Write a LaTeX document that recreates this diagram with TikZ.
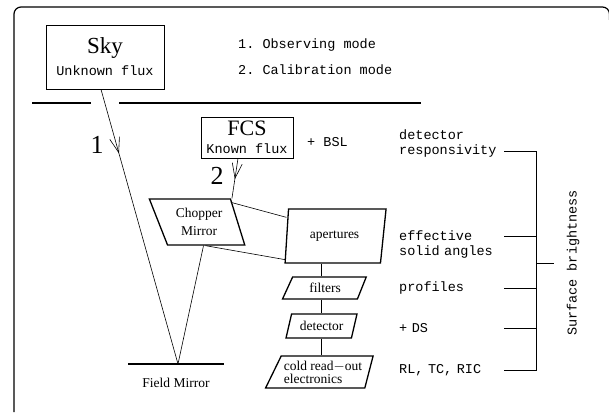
\documentclass[tikz,border=0pt]{standalone}
\usepackage{fontspec}
\setmainfont{Liberation Serif}
\setmonofont{Liberation Mono}
\usetikzlibrary{arrows.meta, positioning, shapes.geometric, decorations.markings}

\begin{document}
\begin{tikzpicture}[
        x=1pt, y=-1pt,
        every node/.style={font=\fontsize{13.5}{15}\selectfont},
        mono/.style={font=\ttfamily\fontsize{13.5}{15}\selectfont, inner sep=0pt, anchor=west, align=left},
        big/.style={font=\fontsize{26}{26}\selectfont, inner sep=0pt},
        source/.style={rectangle, draw, line width=0.8pt, align=center, inner sep=0pt},
        optic/.style={trapezium, draw, line width=1.3pt, trapezium stretches=true, inner sep=0pt, align=center},
        beam/.style={line width=0.6pt},
        wall/.style={line width=1.6pt},
        tick/.style={line width=0.8pt},
        flow/.style={postaction={decorate}, decoration={markings,
            mark=at position #1 with {\arrow{Straight Barb[length=15pt, width=10pt]}}}}
    ]
        \useasboundingbox (0,0) rectangle (609,412);
        % outer frame, open at the page edges
        \draw[line width=1.2pt, rounded corners=7pt] (14,412) -- (14,7) -- (609.5,7) -- (609.5,20);

        % sources
        \node[source, minimum width=118pt, minimum height=64pt] (sky) at (105,57)
            {{\fontsize{23}{23}\selectfont Sky}\\[7pt]{\ttfamily Unknown flux}};
        \node[source, minimum width=92pt, minimum height=41pt] (fcs) at (247,137.5)
            {{\fontsize{22}{22}\selectfont FCS}\\[3pt]{\ttfamily Known flux}};
        \node[mono] (modeA) at (238,45) {1. Observing mode};
        \node[mono] (modeB) at (238,70) {2. Calibration mode};

        % entrance wall
        \draw[wall] (32,103) -- (91,103);
        \draw[wall] (119,103) -- (421,103);

        % optics
        \node[optic, trapezium left angle=116, trapezium right angle=69,
            minimum width=96pt, minimum height=46pt] (chopper) at (199,222) {Chopper\\[3pt]Mirror};
        \node[optic, trapezium left angle=80, trapezium right angle=106,
            minimum width=101pt, minimum height=54pt] (apert) at (334.5,236) {apertures};
        \node[optic, trapezium left angle=63, trapezium right angle=114,
            minimum width=84pt, minimum height=22pt] (filt) at (325,288) {filters};
        \node[optic, trapezium left angle=67, trapezium right angle=113,
            minimum width=71pt, minimum height=24pt] (detect) at (321.5,326) {detector};
        \node[optic, trapezium left angle=57, trapezium right angle=109, align=left,
            minimum width=108pt, minimum height=32pt, font=\fontsize{13.5}{13}\selectfont] (cold) at (323,372)
            {cold read$-$out\\electronics};

        \coordinate (fm) at (178,364);
        \draw[wall] ([xshift=-50pt]fm) -- ([xshift=46pt]fm);
        \node (fmlabel) at (176,383) {Field Mirror};

        % beams
        \draw[beam, flow=0.233] ([xshift=-4pt]sky.south) -- (fm);
        \draw[beam, flow=0.52] ([xshift=-9pt]fcs.south) -- ([xshift=1pt]chopper.top right corner);
        \draw[beam] ([xshift=4.5pt]chopper.south) -- (fm);
        \draw[beam] ([yshift=-4pt]chopper.top right corner) -- ([xshift=-1.5pt, yshift=-9pt]apert.top left corner);
        \draw[beam] ([xshift=6.5pt]chopper.south) -- ([xshift=0.7pt, yshift=4pt]apert.bottom left corner);
        \node[big] (one) at (97,145) {1};
        \node[big] (two) at (217,176) {2};

        % detector chain
        \coordinate (spine) at (321,0);
        \draw[tick] (apert.south -| spine) -- (filt.north -| spine);
        \draw[tick] (filt.south -| spine) -- (detect.north -| spine);
        \draw[tick] (detect.south -| spine) -- (cold.north -| spine);

        % calibration terms
        \node[mono] (bsl) at (307,142) {+ BSL};
        \node[mono, text width=105pt] (resp) at (399,143.5) {detector\\responsivity};
        \node[mono, text width=105pt] (eff) at (399,244.5) {effective\\solid angles};
        \node[mono, text width=105pt] (prof) at (399,288) {profiles};
        \node[mono, text width=105pt] (dark) at (399,328) {+ DS};
        \node[mono, text width=105pt] (read) at (399,370) {RL, TC, RIC};

        \draw[tick] ([yshift=-7.5pt]resp.east) -- +(32,0) |- (read.east);
        \draw[tick] ([yshift=8pt]eff.east) -- +(32,0);
        \draw[tick] (prof.east) -- +(32,0);
        \draw[tick] (dark.east) -- +(32,0);
        \coordinate (bar) at (536,263);
        \node[mono, anchor=center, rotate=90, inner sep=12.5pt] (sb) at (573,263) {Surface brightness};
        \draw[tick] (bar) -- (sb.north);
\end{tikzpicture}
\end{document}
